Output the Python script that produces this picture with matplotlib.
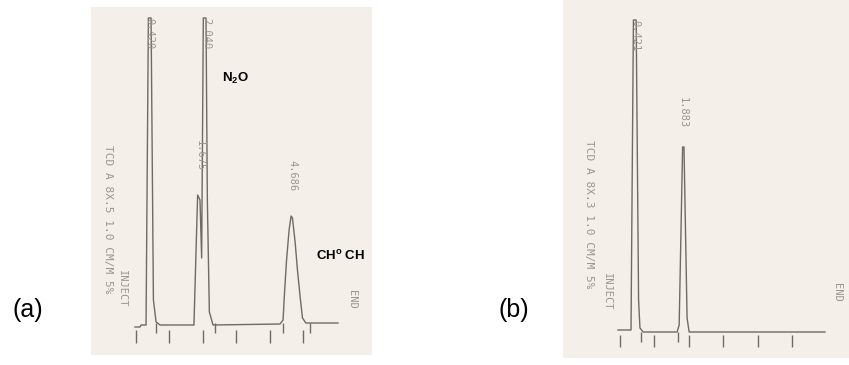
import matplotlib.pyplot as plt

plt.rcParams['mathtext.fontset'] = 'custom'
plt.rcParams['mathtext.rm'] = 'Liberation Sans'
plt.rcParams['mathtext.bf'] = 'Liberation Sans:bold'

# chromatogram (a): retention time (min) vs detector response (arb.)
time_a = [-0.03, 0.12, 0.15, 0.30, 0.37, 0.45, 0.52, 0.60, 0.72,
          1.73, 1.84, 1.91, 1.96, 2.01, 2.09, 2.13, 2.19, 2.30,
          4.30, 4.39, 4.43, 4.49, 4.57, 4.63, 4.67, 4.75, 4.82, 4.90, 4.97, 5.07, 6.03]
resp_a = [-2, -2, 0, 0, 307, 307, 25, 3, 0,
          0, 130, 125, 67, 307, 307, 125, 13, 0,
          1, 5, 30, 63, 95, 109, 107, 83, 55, 28, 7, 2, 2]
minutes_a = [0, 1, 2, 3, 4, 5]
events_a = [0.60, 2.36, 4.39, 5.19]
peak_labels_a = ["0.420", "2.040", "1.675", "4.686"]
peak_label_t_a = [0.39, 2.09, 1.91, 4.66]
peak_label_r_a = [307, 307, 185, 165]

# chromatogram (b)
time_b = [-0.06, 0.32, 0.39, 0.47, 0.54, 0.58, 0.67,
          1.66, 1.72, 1.82, 1.86, 1.95, 2.01, 5.96]
resp_b = [2, 2, 312, 312, 32, 4, 0,
          0, 7, 185, 185, 14, 0, 0]
minutes_b = [0, 1, 2, 3, 4, 5]
events_b = [0.60, 1.69]
peak_labels_b = ["0.421", "1.883"]
peak_label_t_b = [0.44, 1.83]
peak_label_r_b = [312, 235]

paper = '#f4f0e9'
ink = '#6f6a65'
faded = '#9b958f'

fig = plt.figure(figsize=(8.49, 3.65), dpi=100)
ax1 = fig.add_axes([91/849, 10/365, 281/849, 348/365])
ax2 = fig.add_axes([563/849, 7/365, 286/849, 358/365])

for ax in (ax1, ax2):
    ax.set_facecolor(paper)
    for s in ax.spines.values():
        s.set_visible(False)
    ax.set_xticks([])
    ax.set_yticks([])

# panel a
ax1.plot(time_a, resp_a, color=ink, lw=1.0)
ax1.vlines(minutes_a, -5, -18, color=ink, lw=1.0)
ax1.vlines(events_a, 2, -8, color=ink, lw=1.0)
for lab, t, r in zip(peak_labels_a, peak_label_t_a, peak_label_r_a):
    ax1.text(t, r, lab, rotation=270, ha='center', va='top', fontsize=7.5,
             family='DejaVu Sans Mono', color=faded)
ax1.text(-0.84, 180, "TCD A 8X.5 1.0 CM/M 5%", rotation=270, ha='center', va='top',
         fontsize=8, family='DejaVu Sans Mono', color=faded)
ax1.text(-0.42, 55, "INJECT", rotation=270, ha='center', va='top',
         fontsize=7.5, family='DejaVu Sans Mono', color=faded)
ax1.text(6.45, 35, "END", rotation=270, ha='center', va='top',
         fontsize=7.5, family='DejaVu Sans Mono', color=faded)
ax1.text(2.96, 247, r"N$_{\mathbf{2}}$O", ha='center', va='center', fontsize=9.5,
         family='Liberation Sans', fontweight='bold')
ax1.text(6.12, 69, r"CH$^{\mathbf{o}}$ CH", ha='center', va='center', fontsize=9.5,
         family='Liberation Sans', fontweight='bold')
ax1.set_xlim(-1.343, 7.045)
ax1.set_ylim(-30, 318)

# panel b
ax2.plot(time_b, resp_b, color=ink, lw=1.0)
ax2.vlines(minutes_b, -3, -15, color=ink, lw=1.0)
ax2.vlines(events_b, 0, -10, color=ink, lw=1.0)
for lab, t, r in zip(peak_labels_b, peak_label_t_b, peak_label_r_b):
    ax2.text(t, r, lab, rotation=270, ha='center', va='top', fontsize=7.5,
             family='DejaVu Sans Mono', color=faded)
ax2.text(-0.90, 192, "TCD A 8X.3 1.0 CM/M 5%", rotation=270, ha='center', va='top',
         fontsize=8, family='DejaVu Sans Mono', color=faded)
ax2.text(-0.38, 59, "INJECT", rotation=270, ha='center', va='top',
         fontsize=7.5, family='DejaVu Sans Mono', color=faded)
ax2.text(6.31, 49, "END", rotation=270, ha='center', va='top',
         fontsize=7.5, family='DejaVu Sans Mono', color=faded)
ax2.set_xlim(-1.657, 6.657)
ax2.set_ylim(-26, 332)

fig.text(28/849, 1 - 310/365, "(a)", ha='center', va='center', fontsize=18,
         family='Liberation Sans')
fig.text(514/849, 1 - 310/365, "(b)", ha='center', va='center', fontsize=18,
         family='Liberation Sans')

fig.savefig('out.png', dpi=100, facecolor='white')
